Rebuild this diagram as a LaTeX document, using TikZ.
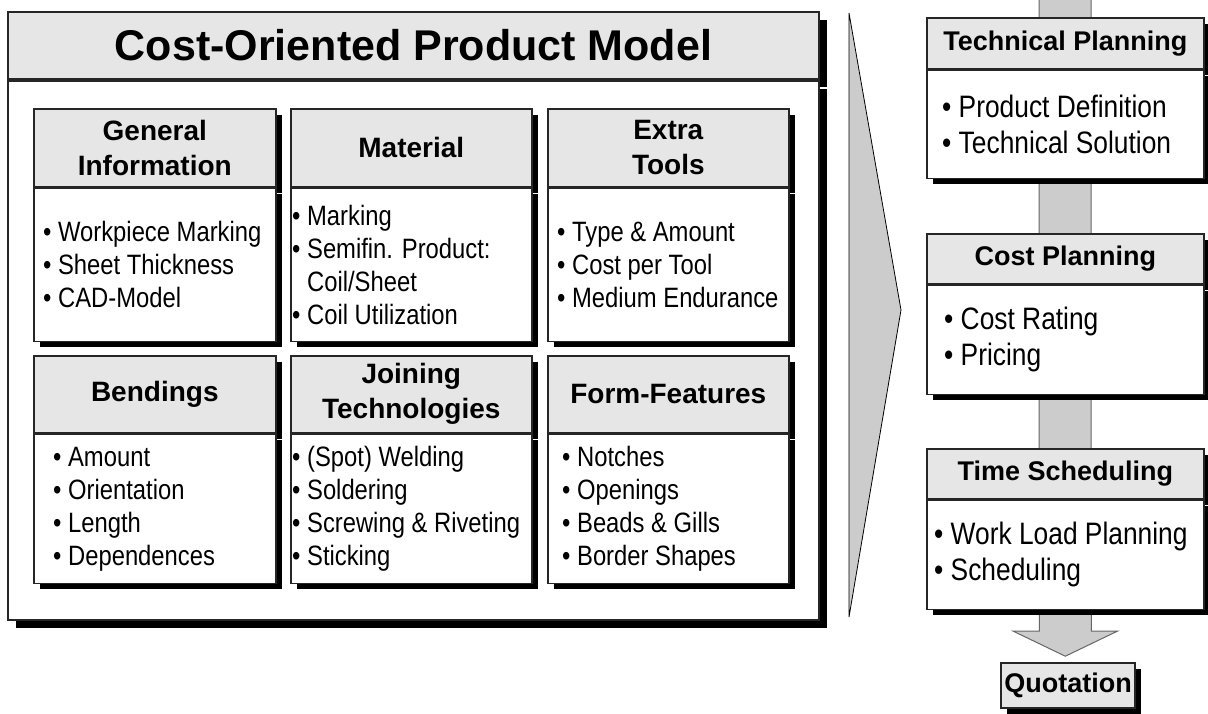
\documentclass[tikz,border=0pt]{standalone}
\usepackage{fontspec}
\setmainfont{Liberation Sans}
\newfontfamily\narrowfont[FakeStretch=0.85]{Liberation Sans}
\usetikzlibrary{positioning, backgrounds, calc}
\definecolor{headgray}{RGB}{230,230,230}
\definecolor{bargray}{RGB}{204,204,204}
\newcommand{\headfill}{headgray}
\newcommand{\barfill}{bargray}
\newcommand{\edgecolor}{black!85}
\tikzset{blkshadow/.style={preaction={fill=black, transform canvas={xshift=#1,yshift=-#1}}}}

\begin{document}
\begin{tikzpicture}[x=1pt,y=-1pt,
	box/.style={draw=\edgecolor, line width=1.6pt, anchor=north west, inner sep=0pt},
	hd/.style={box, fill=\headfill, align=center, blkshadow=6pt, font=\fontsize{28}{35}\selectfont\bfseries},
	bd/.style={box, fill=white, blkshadow=6pt},
	lst/.style={anchor=west, inner sep=0pt, align=left, font=\narrowfont\fontsize{28}{33}\selectfont},
	rhd/.style={hd, font=\fontsize{27}{32}\selectfont\bfseries},
	rlst/.style={lst, font=\narrowfont\fontsize{31}{36}\selectfont}]
	\useasboundingbox (0,0) rectangle (1208,713);
	%% cost-oriented product model
	\node[box, fill=\headfill, line width=2pt, blkshadow=8pt, minimum width=811pt, minimum height=67pt, font=\fontsize{43}{50}\selectfont\bfseries] (modelh) at (7,11) {Cost-Oriented Product Model};
	\node[box, fill=white, line width=2pt, blkshadow=8pt, minimum width=811pt, minimum height=539pt] (modelb) at (modelh.south west) {};
	%%
	\node[hd, minimum width=242pt, minimum height=78pt] (genh) at (33,108) {General\\Information};
	\node[bd, minimum width=242pt, minimum height=153pt] (genb) at (genh.south west) {};
	\node[lst, right=10pt of genb.west] (genl) {\textbullet{} Workpiece Marking\\\textbullet{} Sheet Thickness\\\textbullet{} CAD-Model};
	%%
	\node[hd, minimum width=241pt, minimum height=78pt] (math) at (290,108) {Material};
	\node[bd, minimum width=241pt, minimum height=153pt] (matb) at (math.south west) {};
	\node[lst, right=2pt of matb.west] (matl) {\textbullet{} Marking\\\textbullet{} Semifin. Product:\\\phantom{\textbullet{}} Coil/Sheet\\\textbullet{} Coil Utilization};
	%%
	\node[hd, minimum width=241pt, minimum height=78pt] (toolh) at (547,108) {Extra\\Tools};
	\node[bd, minimum width=241pt, minimum height=153pt] (toolb) at (toolh.south west) {};
	\node[lst, right=10pt of toolb.west] (tooll) {\textbullet{} Type \& Amount\\\textbullet{} Cost per Tool\\\textbullet{} Medium Endurance};
	%%
	\node[hd, minimum width=242pt, minimum height=77pt] (bendh) at (33,355) {Bendings};
	\node[bd, minimum width=242pt, minimum height=149pt] (bendb) at (bendh.south west) {};
	\node[lst, right=20pt of bendb.west] (bendl) {\textbullet{} Amount\\\textbullet{} Orientation\\\textbullet{} Length\\\textbullet{} Dependences};
	%%
	\node[hd, minimum width=241pt, minimum height=77pt] (joinh) at (290,355) {Joining\\Technologies};
	\node[bd, minimum width=241pt, minimum height=149pt] (joinb) at (joinh.south west) {};
	\node[lst, right=2pt of joinb.west] (joinl) {\textbullet{} (Spot) Welding\\\textbullet{} Soldering\\\textbullet{} Screwing \& Riveting\\\textbullet{} Sticking};
	%%
	\node[hd, minimum width=241pt, minimum height=77pt] (formh) at (547,355) {Form-Features};
	\node[bd, minimum width=241pt, minimum height=149pt] (formb) at (formh.south west) {};
	\node[lst, right=15pt of formb.west] (forml) {\textbullet{} Notches\\\textbullet{} Openings\\\textbullet{} Beads \& Gills\\\textbullet{} Border Shapes};
	
	%% big arrow
	\fill[\barfill] (849,13) -- (901,310) -- (849,617) -- cycle;
	\draw[black, line width=0.8pt] (849,13) -- (901,310) -- (849,617) -- cycle;
	
	%% planning steps
	\node[rhd, minimum width=277pt, minimum height=51pt] (techh) at (926,17) {Technical Planning};
	\node[bd, minimum width=277pt, minimum height=108pt] (techb) at (techh.south west) {};
	\node[rlst, right=16pt of techb.west] (techl) {\textbullet{} Product Definition\\\textbullet{} Technical Solution};
	%%
	\node[rhd, minimum width=277pt, minimum height=50pt] (costh) at (926,233) {Cost Planning};
	\node[bd, minimum width=277pt, minimum height=109pt] (costb) at (costh.south west) {};
	\node[rlst, right=18pt of costb.west] (costl) {\textbullet{} Cost Rating\\\textbullet{} Pricing};
	%%
	\node[rhd, minimum width=277pt, minimum height=50pt] (timeh) at (926,448) {Time Scheduling};
	\node[bd, minimum width=277pt, minimum height=109pt] (timeb) at (timeh.south west) {};
	\node[rlst, right=8pt of timeb.west] (timel) {\textbullet{} Work Load Planning\\\textbullet{} Scheduling};
	%%
	\node[rhd, anchor=center, minimum width=134pt, minimum height=45pt] (quote) at (1068,685.5) {Quotation};
	
	\coordinate (spine) at (1065,-5);
	\begin{scope}[on background layer]
		\filldraw[fill=\barfill, draw=black!60, line width=1pt] ([xshift=-26pt]spine) -- ([xshift=-26pt,yshift=-21pt]timeb.south) -- ([xshift=-52pt,yshift=-21pt]timeb.south) -- ([yshift=-46pt]timeb.south) -- ([xshift=52pt,yshift=-21pt]timeb.south) -- ([xshift=26pt,yshift=-21pt]timeb.south) -- ([xshift=26pt]spine) -- cycle;
	\end{scope}
\end{tikzpicture}
\end{document}
